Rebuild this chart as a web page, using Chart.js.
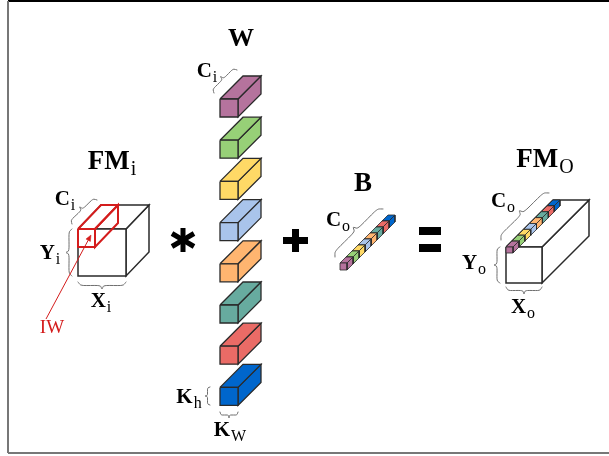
<!DOCTYPE html>
<html lang="en">
<head>
<meta charset="UTF-8">
<title>Convolution layer</title>
<script src="https://cdn.jsdelivr.net/npm/chart.js"></script>
<style>
  body { margin: 0; background: #fff; }
  canvas { display: block; }
</style>
</head>
<body>
<canvas id="diagram" width="609" height="456"></canvas>
<script>
// channel colours, front (first) to back (last)
const channelColors = ['#B5739D', '#97D077', '#FFD966', '#A9C4EB', '#FFB570', '#67AB9F', '#EA6B66', '#0066CC'];
// text of the labels
const labelMain = ['W', 'FM', 'B', 'FM', 'C', 'K', 'K', 'C', 'Y', 'X', 'IW', 'C', 'C', 'Y', 'X'];
const labelSub  = ['',  'i',  '',  'O',  'i', 'h', 'W', 'i', 'i', 'i', '',   'o', 'o', 'o', 'o'];

// layout (pixel-like units on a 609 x 456 linear scale)
const labelPos = [
  [241, 46, 26], [112, 169, 27], [363, 191, 27], [545, 167, 27],
  [207, 77, 21], [189, 403, 21], [230, 436, 21],
  [65, 205, 21], [50, 259, 21], [101, 307, 21], [52, 333, 19],
  [338, 226, 21], [503, 207, 21], [474, 269, 21], [523, 313, 21]
];
const fmIn = { x: 78, y: 229, w: 48, h: 47, dx: 23, dy: -24 };
const iwBox = { x: 78, y: 229, w: 17, h: 18, dx: 23, dy: -24 };
const kernel = { x: 220, y: 99, w: 18, h: 18, dx: 23, dy: -23, gap: 41.2 };
const bias = { x: 340, y: 263, w: 7, h: 7, step: 6 };
const fmOut = { x: 506, y: 247, w: 36, h: 36, dx: 47, dy: -47 };
const strip = { x: 506, y: 247, w: 7, h: 6, step: 5.875 };

const INK = '#2a2a2a';
const BRACE = '#6e6e6e';
const RED = '#d41c1c';

const datasets = [];
const pt = (x, y) => ({ x, y });

function poly(points, fill, stroke, width) {
  const data = points.map(p => pt(p[0], p[1]));
  data.push(data[0]);
  datasets.push({
    data, showLine: true, tension: 0, pointRadius: 0, clip: false,
    borderColor: stroke, borderWidth: width, borderJoinStyle: 'miter',
    backgroundColor: fill || 'rgba(0,0,0,0)', fill: fill ? 'shape' : false
  });
}

function line(points, color, width, cap, tension) {
  datasets.push({
    data: points.map(p => pt(p[0], p[1])), showLine: true, tension: tension || 0,
    pointRadius: 0, clip: false, fill: false,
    borderColor: color, borderWidth: width, borderCapStyle: cap || 'butt'
  });
}

function cube(c, fill, stroke, width) {
  const { x, y, w, h, dx, dy } = c;
  poly([[x + w, y], [x + w + dx, y + dy], [x + w + dx, y + h + dy], [x + w, y + h]], fill, stroke, width);
  poly([[x, y], [x + dx, y + dy], [x + w + dx, y + dy], [x + w, y]], fill, stroke, width);
  poly([[x, y], [x + w, y], [x + w, y + h], [x, y + h]], fill, stroke, width);
}

// curly brace from A to B, bulging toward (hx, hy)
function brace(ax, ay, bx, by, amp, hx, hy) {
  const len = Math.hypot(bx - ax, by - ay);
  const tx = (bx - ax) / len, ty = (by - ay) / len;
  let nx = -ty, ny = tx;
  if (nx * hx + ny * hy < 0) { nx = -nx; ny = -ny; }
  const prof = [[0, 0], [0.05, 0.4], [0.12, 0.5], [0.4, 0.5], [0.47, 0.6], [0.5, 1]];
  const half = prof.concat(prof.slice(0, -1).reverse().map(p => [1 - p[0], p[1]]));
  line(half.map(p => [ax + tx * len * p[0] + nx * amp * p[1], ay + ty * len * p[0] + ny * amp * p[1]]), BRACE, 1, 'round', 0.25);
}

// frame
line([[8, 1], [609, 1]], '#000', 2);
line([[8, 1], [8, 453]], '#777', 2);
line([[8, 453], [609, 453]], '#777', 2);

// input feature map with the input window
cube(fmIn, '#fff', INK, 1.5);
cube(iwBox, null, RED, 2);

// weights
channelColors.forEach((col, i) => {
  cube({ ...kernel, y: kernel.y + kernel.gap * i }, col, INK, 1.3);
});

// bias, drawn back to front
for (let i = channelColors.length - 1; i >= 0; i--) {
  const s = bias.step;
  cube({ x: bias.x + s * i, y: bias.y - s * i, w: bias.w, h: bias.h, dx: s, dy: -s }, channelColors[i], INK, 0.8);
}

// output feature map and its channel strip
cube(fmOut, '#fff', INK, 1.5);
for (let i = channelColors.length - 1; i >= 0; i--) {
  const s = strip.step;
  cube({ x: strip.x + s * i, y: strip.y - s * i, w: strip.w, h: strip.h, dx: s, dy: -s }, channelColors[i], INK, 0.8);
}

// operators
line([[183, 228], [183, 252]], '#000', 5);
line([[172, 233.5], [194, 246.5]], '#000', 5);
line([[172, 246.5], [194, 233.5]], '#000', 5);
line([[283, 240.5], [308, 240.5]], '#000', 7);
line([[295.5, 229], [295.5, 252]], '#000', 7);
line([[419, 231], [441, 231]], '#000', 8);
line([[419, 248], [441, 248]], '#000', 8);

// braces
brace(214, 93, 237, 70, 7, -1, -1);
brace(210, 387, 210, 405, 5, -1, 0);
brace(220, 412, 238, 412, 6, 0, 1);
brace(72, 224, 97, 200, 7, -1, -1);
brace(72, 229, 72, 276, 6, -1, 0);
brace(78, 282, 126, 282, 7, 0, 1);
brace(335, 257, 383, 209, 8, -1, -1);
brace(501, 240, 549, 193, 8, -1, -1);
brace(500, 247, 500, 283, 6, -1, 0);
brace(506, 287, 542, 287, 7, 0, 1);

// IW arrow
(function () {
  const sx = 46, sy = 319, ex = 91, ey = 235;
  const l = Math.hypot(ex - sx, ey - sy), ux = (ex - sx) / l, uy = (ey - sy) / l;
  const bx = ex - ux * 6, by = ey - uy * 6;
  line([[sx, sy], [bx, by]], RED, 1);
  poly([[ex, ey], [bx - uy * 2.5, by + ux * 2.5], [bx + uy * 2.5, by - ux * 2.5]], RED, RED, 0.5);
})();

// paint in the order they were added
datasets.forEach((d, i) => { d.order = datasets.length - i; });

const labels = {
  id: 'labels',
  afterDatasetsDraw(chart) {
    const { ctx, scales: { x, y } } = chart;
    ctx.save();
    ctx.textBaseline = 'alphabetic';
    ctx.textAlign = 'left';
    labelMain.forEach((txt, i) => {
      const [cx, base, size] = labelPos[i];
      const red = txt === 'IW';
      const mainFont = (red ? '' : 'bold ') + size + 'px "Liberation Serif"';
      const subFont = Math.round(size * 0.75) + 'px "Liberation Serif"';
      ctx.font = mainFont;
      const w1 = ctx.measureText(txt).width;
      ctx.font = subFont;
      const w2 = labelSub[i] ? ctx.measureText(labelSub[i]).width + 1 : 0;
      const px = x.getPixelForValue(cx) - (w1 + w2) / 2;
      const py = y.getPixelForValue(base);
      ctx.fillStyle = red ? RED : '#000';
      ctx.font = mainFont;
      ctx.fillText(txt, px, py);
      if (labelSub[i]) {
        ctx.font = subFont;
        ctx.fillText(labelSub[i], px + w1 + 1, py + size * 0.22);
      }
    });
    ctx.restore();
  }
};

new Chart(document.getElementById('diagram').getContext('2d'), {
  type: 'scatter',
  data: { datasets },
  options: {
    responsive: false,
    animation: false,
    layout: { padding: 0 },
    scales: {
      x: { type: 'linear', min: 0, max: 609, display: false },
      y: { type: 'linear', min: 0, max: 456, reverse: true, display: false }
    },
    plugins: { legend: { display: false }, tooltip: { enabled: false } }
  },
  plugins: [labels]
});
</script>
</body>
</html>
